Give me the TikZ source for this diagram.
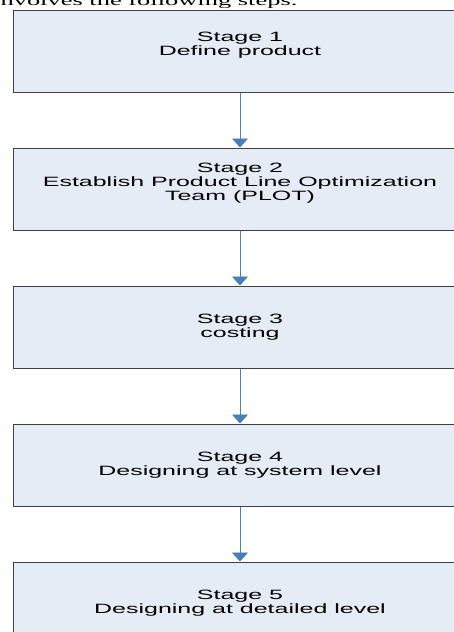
\documentclass[tikz,border=0pt]{standalone}
\usepackage{fontspec}
\setmainfont{Liberation Serif}[FakeStretch=1.85]
\newfontfamily\stagefont{Liberation Sans}[FakeStretch=1.85]
\usetikzlibrary{positioning,arrows.meta}
\definecolor{stagefill}{HTML}{E6ECF6}
\definecolor{stageline}{HTML}{404040}
\definecolor{flowblue}{HTML}{4A7EBB}
\tikzset{
  stagebox/.style={draw=stageline, line width=1pt, fill=stagefill, minimum width=453pt, minimum height=82pt, inner sep=0pt, align=center, font=\stagefont\fontsize{13.5pt}{14.2pt}\selectfont},
  flow/.style={draw=flowblue, line width=0.9pt, -{Triangle[width=16pt,length=9pt]}, flowblue}
}
\begin{document}
\begin{tikzpicture}[x=1pt,y=-1pt]
    \useasboundingbox (0,0) rectangle (453,632);
    \node[anchor=base west, inner sep=0pt, font=\fontsize{14.3pt}{16pt}\selectfont] (intro) at (-7,5) {involves the following steps.};

    \node[stagebox] (s1) at (240,51) {Stage 1\\Define product\\\mbox{}};
    \node[stagebox, below=55pt of s1] (s2) {Stage 2\\Establish Product Line Optimization\\Team (PLOT)\\\mbox{}};
    \node[stagebox, below=55pt of s2] (s3) {Stage 3\\costing};
    \node[stagebox, below=55pt of s3] (s4) {Stage 4\\Designing at system level};
    \node[stagebox, below=55pt of s4] (s5) {Stage 5\\Designing at detailed level};

    \foreach \a/\b in {s1/s2, s2/s3, s3/s4, s4/s5}
        \draw[flow] (\a.south) -- (\b.north);
\end{tikzpicture}
\end{document}
